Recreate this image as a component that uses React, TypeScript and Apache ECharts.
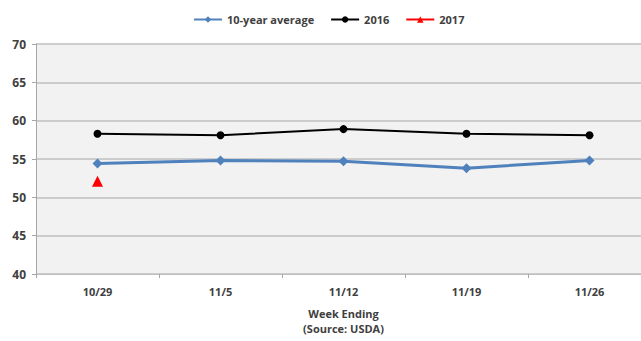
import React, { useEffect, useRef } from "react";
import * as echarts from "echarts";

const categories = ["10/29", "11/5", "11/12", "11/19", "11/26"];
const avg10 = [54.4, 54.8, 54.7, 53.8, 54.8];
const y2016 = [58.3, 58.1, 58.9, 58.3, 58.1];
const y2017: (number | null)[] = [52.1, null, null, null, null];

export default function App() {
  const ref = useRef<HTMLDivElement>(null);
  useEffect(() => {
    const chart = echarts.init(ref.current!, null, { renderer: "svg" });
    const font = "'Open Sans', 'Liberation Sans', sans-serif";
    chart.setOption({
      animation: false,
      backgroundColor: "#ffffff",
      textStyle: { fontFamily: font },
      legend: {
        top: 9,
        left: 188,
        itemGap: 16,
        itemWidth: 28,
        itemHeight: 8,
        textStyle: { fontSize: 11, fontWeight: "bold", color: "#404040", fontFamily: font },
        data: ["10-year average", "2016", "2017"],
      },
      grid: {
        left: 36,
        right: 0,
        top: 44,
        bottom: 66,
        show: true,
        backgroundColor: "#f2f2f2",
        borderColor: "#d0d0d0",
        borderWidth: 0,
      },
      xAxis: {
        type: "category",
        data: categories,
        boundaryGap: true,
        axisLine: { show: true, lineStyle: { color: "#bfbfbf", width: 1 } },
        axisTick: { show: true, length: 4, lineStyle: { color: "#a6a6a6" } },
        axisLabel: { fontSize: 11, fontWeight: "bold", color: "#404040", margin: 12, fontFamily: font },
        name: "Week Ending\n(Source: USDA)",
        nameLocation: "middle",
        nameGap: 32,
        nameTextStyle: { fontSize: 11, fontWeight: "bold", color: "#404040", lineHeight: 15, fontFamily: font },
      },
      yAxis: {
        type: "value",
        min: 40,
        max: 70,
        interval: 5,
        axisLine: { show: true, lineStyle: { color: "#a6a6a6" } },
        axisTick: { show: true, length: 4, lineStyle: { color: "#a6a6a6" } },
        axisLabel: { fontSize: 12, fontWeight: "bold", color: "#404040", margin: 10, fontFamily: font },
        splitLine: { show: true, lineStyle: { color: "#bfbfbf", width: 1.5 } },
      },
      series: [
        {
          name: "10-year average",
          type: "line",
          data: avg10,
          color: "#4f81bd",
          symbol: "diamond",
          symbolSize: 10,
          lineStyle: { width: 3, color: "#4f81bd" },
          itemStyle: { color: "#4f81bd" },
        },
        {
          name: "2016",
          type: "line",
          data: y2016,
          color: "#000000",
          symbol: "circle",
          symbolSize: 8,
          lineStyle: { width: 2, color: "#000000" },
          itemStyle: { color: "#000000" },
        },
        {
          name: "2017",
          type: "line",
          data: y2017,
          color: "#ff0000",
          symbol: "triangle",
          symbolSize: 11,
          lineStyle: { width: 2.5, color: "#ff0000" },
          itemStyle: { color: "#ff0000" },
        },
      ],
    });
    return () => chart.dispose();
  }, []);
  return (
    <div
      ref={ref}
      style={{ position: "fixed", left: 0, top: 0, width: 651, height: 341 }}
    />
  );
}
